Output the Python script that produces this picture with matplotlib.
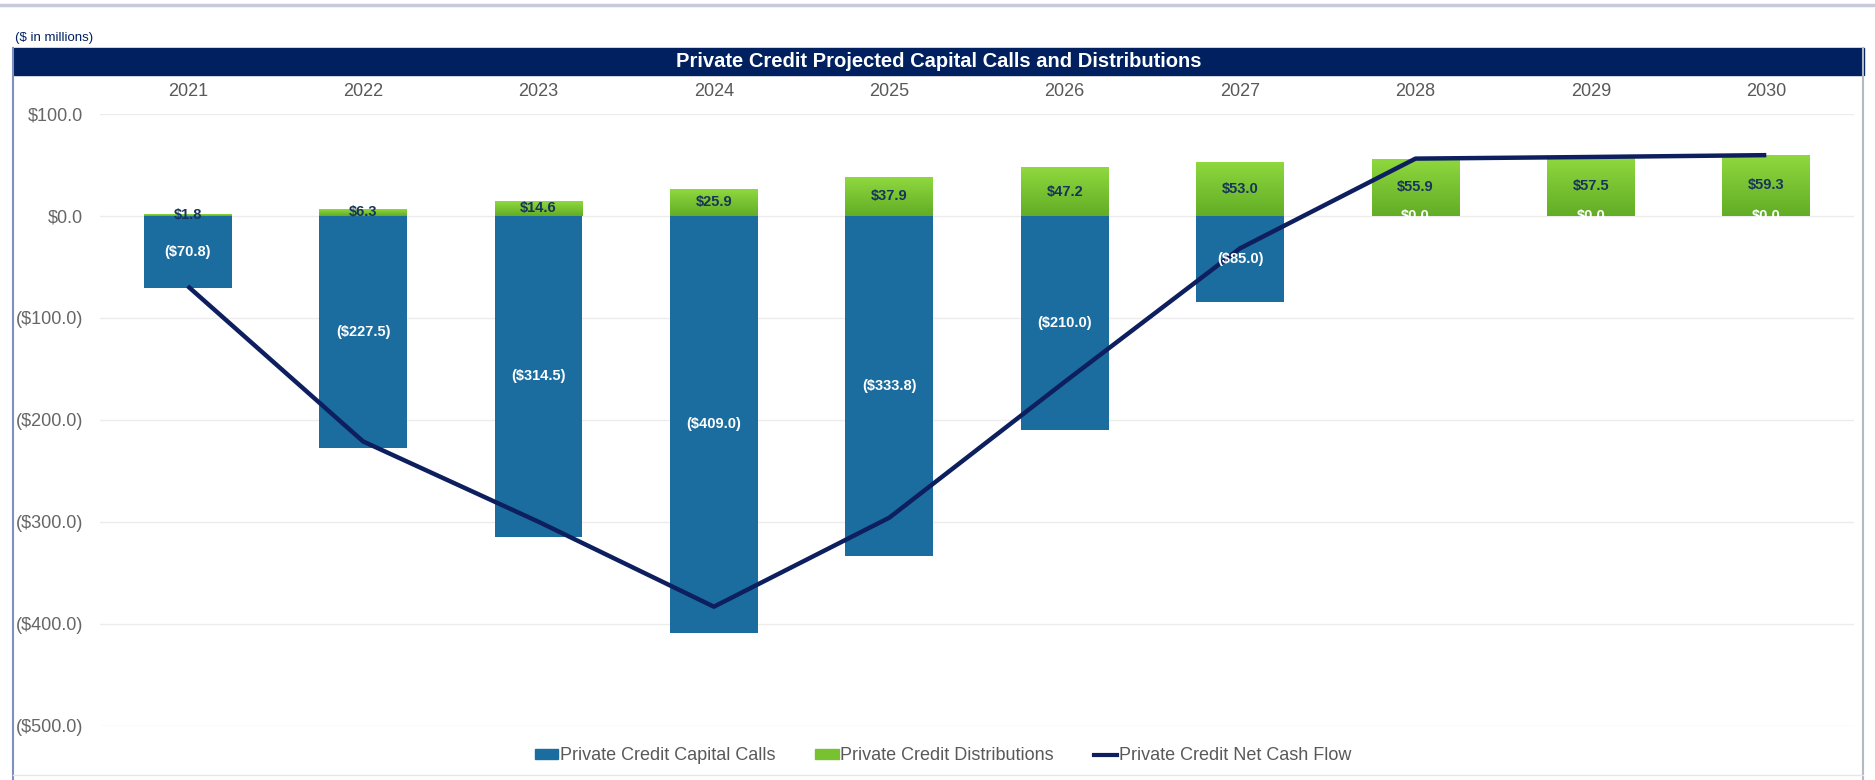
import numpy as np
import matplotlib.pyplot as plt
from matplotlib.patches import Rectangle
from matplotlib.lines import Line2D
from matplotlib.colors import LinearSegmentedColormap

years = ["2021", "2022", "2023", "2024", "2025", "2026", "2027", "2028", "2029", "2030"]
capital_calls = [-70.8, -227.5, -314.5, -409.0, -333.8, -210.0, -85.0, 0.0, 0.0, 0.0]
distributions = [1.8, 6.3, 14.6, 25.9, 37.9, 47.2, 53.0, 55.9, 57.5, 59.3]
net_cash_flow = [-69.0, -221.2, -299.9, -383.1, -295.9, -162.8, -32.0, 55.9, 57.5, 59.3]

NAVY = "#002060"
BLUE = "#1c6d9f"
GREEN = "#78c232"
LINE = "#0d1f5e"
GREY = "#595959"
NARROW = ["Liberation Sans Narrow", "Liberation Sans", "DejaVu Sans"]
REG = ["Liberation Sans", "DejaVu Sans"]


def money(v):
    if v < 0:
        return "(${:,.1f})".format(-v)
    return "${:,.1f}".format(v)


W, H = 1875, 780
fig = plt.figure(figsize=(W / 100, H / 100), dpi=100)
ax = fig.add_axes([100 / W, 1 - 726 / H, (1854 - 100) / W, (726 - 113.6) / H])

x = np.arange(len(years))
calls = ax.bar(x, capital_calls, width=0.5, color=BLUE, zorder=2)
dists = ax.bar(x, distributions, width=0.5, color=GREEN, zorder=2)

# vertical green gradient on the distribution bars
green_cmap = LinearSegmentedColormap.from_list("g", ["#62ad26", "#8fd83e"])
grad = np.linspace(0, 1, 64).reshape(-1, 1)
for p in dists.patches:
    x0, y0 = p.get_x(), p.get_y()
    im = ax.imshow(grad, cmap=green_cmap, origin="lower", aspect="auto",
                   extent=(x0, x0 + p.get_width(), y0, y0 + p.get_height()), zorder=2.5)
    im.set_clip_path(p)

ax.plot(x, net_cash_flow, color=LINE, lw=3.2, zorder=4, solid_capstyle="butt")

ax.bar_label(calls, labels=[money(v) for v in capital_calls], label_type="center",
             color="white", fontweight="bold", fontsize=10.5, family=NARROW, zorder=6)
ax.bar_label(dists, labels=[money(v) for v in distributions], label_type="center",
             color="#17345a", fontweight="bold", fontsize=10.5, family=NARROW, zorder=6)

ax.set_xlim(-0.5, 9.5)
ax.set_ylim(-500, 100)
ax.set_yticks(np.arange(-500, 101, 100))
ax.set_yticklabels([money(v) for v in np.arange(-500, 101, 100)], color="#666666",
                   fontsize=13, family=REG)
ax.set_xticks(x)
ax.set_xticklabels(years, color=GREY, fontsize=13, family=NARROW)
ax.xaxis.tick_top()
ax.tick_params(axis="x", length=0, pad=10)
ax.tick_params(axis="y", length=0, pad=12)
ax.grid(axis="y", color="#ececec", lw=1, zorder=0)
ax.set_axisbelow(True)
for s in ax.spines.values():
    s.set_visible(False)

# title band and frame
fig.add_artist(Rectangle((14 / W, 1 - 75 / H), (1864 - 14) / W, 27 / H,
                         transform=fig.transFigure, color=NAVY, zorder=1))
fig.text(939 / W, 1 - 61.5 / H, "Private Credit Projected Capital Calls and Distributions",
         color="white", fontsize=14.5, fontweight="bold", family=REG,
         ha="center", va="center")
fig.text(15 / W, 1 - 38 / H, "($ in millions)", color=NAVY, fontsize=9.5,
         family=REG, ha="left", va="center")
fig.add_artist(Line2D([0, 1], [1 - 5 / H] * 2, color="#c9c9dc", lw=2.5))
fig.add_artist(Line2D([13 / W] * 2, [0, 1 - 48 / H], color="#7f8fbf", lw=1.5))
fig.add_artist(Line2D([1863 / W] * 2, [0, 1 - 48 / H], color="#b5b9c6", lw=1.5))
fig.add_artist(Line2D([13 / W, 1863 / W], [1 - 775 / H] * 2, color="#e6e6e6", lw=1))

handles = [Rectangle((0, 0), 1, 1, color=BLUE), Rectangle((0, 0), 1, 1, color="#78c232"),
           Line2D([], [], color=LINE, lw=3)]
fig.legend(handles, ["Private Credit Capital Calls", "Private Credit Distributions",
                     "Private Credit Net Cash Flow"],
           loc="center", bbox_to_anchor=(943 / W, 1 - 756 / H), ncol=3, frameon=False,
           prop={"family": NARROW, "size": 13}, labelcolor=GREY,
           handlelength=1.3, handleheight=0.5, handletextpad=0.1, columnspacing=2.2)

fig.savefig("out.png", dpi=100)
